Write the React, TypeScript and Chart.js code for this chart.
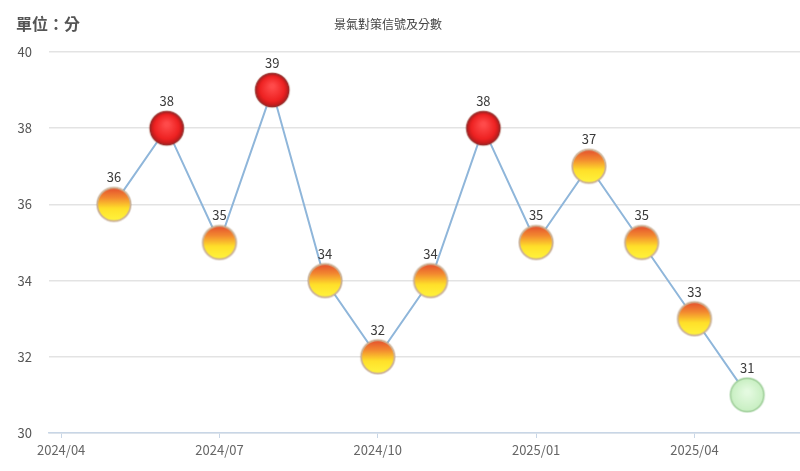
import React, { useEffect, useRef } from "react";
import { Chart, registerables } from "chart.js";

Chart.register(...registerables);

// monthly 景氣對策信號 scores
const months = [
  "2024/05", "2024/06", "2024/07", "2024/08", "2024/09", "2024/10", "2024/11",
  "2024/12", "2025/01", "2025/02", "2025/03", "2025/04", "2025/05",
];
const scores = [36, 38, 35, 39, 34, 32, 34, 38, 35, 37, 35, 33, 31];
const tickLabels = ["2024/04", "2024/07", "2024/10", "2025/01", "2025/04"];
const yTicks = [30, 32, 34, 36, 38, 40];

// months counted from 2024/04
const toIndex = (ym: string) => {
  const [y, m] = ym.split("/").map(Number);
  return (y - 2024) * 12 + m - 4;
};

const makeBall = (kind: "red" | "yellowRed" | "green") => {
  const size = 40;
  const c = document.createElement("canvas");
  c.width = size;
  c.height = size;
  const ctx = c.getContext("2d")!;
  const cx = size / 2;
  const cy = size / 2;
  const r = 16.5;
  // soft glow
  ctx.beginPath();
  ctx.arc(cx, cy, r + 1.5, 0, Math.PI * 2);
  ctx.fillStyle = kind === "green" ? "rgba(150,200,150,0.35)" : "rgba(170,140,110,0.3)";
  ctx.fill();
  ctx.beginPath();
  ctx.arc(cx, cy, r, 0, Math.PI * 2);
  if (kind === "red") {
    const g = ctx.createRadialGradient(cx, cy - 4, 2, cx, cy, r);
    g.addColorStop(0, "#ff4a4a");
    g.addColorStop(0.7, "#ee2222");
    g.addColorStop(1, "#b51a1a");
    ctx.fillStyle = g;
    ctx.fill();
    ctx.lineWidth = 1.5;
    ctx.strokeStyle = "#9e2a2a";
    ctx.stroke();
  } else if (kind === "yellowRed") {
    const g = ctx.createLinearGradient(0, cy - r, 0, cy + r);
    g.addColorStop(0, "#e4502e");
    g.addColorStop(0.3, "#f38a30");
    g.addColorStop(0.62, "#ffe02a");
    g.addColorStop(1, "#fff43c");
    ctx.fillStyle = g;
    ctx.fill();
    ctx.lineWidth = 1.5;
    ctx.strokeStyle = "#cdb192";
    ctx.stroke();
  } else {
    const g = ctx.createRadialGradient(cx, cy - 3, 2, cx, cy, r);
    g.addColorStop(0, "#e4fae0");
    g.addColorStop(1, "#c8efc2");
    ctx.fillStyle = g;
    ctx.fill();
    ctx.lineWidth = 1.5;
    ctx.strokeStyle = "#a6d3a0";
    ctx.stroke();
  }
  return c;
};

const signalOf = (s: number) => (s >= 38 ? "red" : s >= 32 ? "yellowRed" : "green");

const App = () => {
  const chartRef = useRef<HTMLCanvasElement | null>(null);

  useEffect(() => {
    document.body.style.margin = "0";
    if (!chartRef.current) return;
    const ctx = chartRef.current.getContext("2d");
    if (!ctx) return;

    const balls = {
      red: makeBall("red"),
      yellowRed: makeBall("yellowRed"),
      green: makeBall("green"),
    };

    const labelPlugin = {
      id: "scoreLabels",
      afterDatasetsDraw(chart: any) {
        const c = chart.ctx;
        const meta = chart.getDatasetMeta(0);
        c.save();
        c.font = "13px 'Noto Sans CJK TC', sans-serif";
        c.fillStyle = "#3a3a3a";
        c.textAlign = "center";
        c.textBaseline = "middle";
        meta.data.forEach((pt: any, i: number) => {
          c.fillText(String(scores[i]), pt.x, pt.y - 27);
        });
        c.restore();
      },
    };

    const chart = new Chart(ctx, {
      type: "line",
      data: {
        datasets: [
          {
            data: months.map((m, i) => ({ x: toIndex(m), y: scores[i] })),
            borderColor: "#8fb6da",
            borderWidth: 2,
            pointStyle: scores.map((s) => balls[signalOf(s)]) as any,
            pointRadius: 16,
            pointHoverRadius: 16,
            tension: 0,
            clip: false as any,
          },
        ],
      },
      options: {
        animation: false,
        responsive: false,
        layout: { autoPadding: false, padding: { top: 52, right: 0, left: 0, bottom: 0 } },
        plugins: { legend: { display: false }, tooltip: { enabled: false } },
        scales: {
          x: {
            type: "linear",
            min: -0.23,
            max: 14,
            afterBuildTicks: (scale: any) => {
              scale.ticks = tickLabels.map((t) => ({ value: toIndex(t) }));
            },
            afterFit: (scale: any) => {
              scale.height = 38;
              scale.paddingLeft = 0;
              scale.paddingRight = 0;
            },
            ticks: {
              callback: (v: any) => tickLabels.find((t) => toIndex(t) === v) ?? "",
              color: "#666",
              font: { size: 13, family: "'Noto Sans CJK TC', sans-serif" },
              padding: 4,
              maxRotation: 0,
            },
            grid: {
              drawOnChartArea: false,
              drawTicks: true,
              tickLength: 5,
              color: "#c8d6e6",
            },
            border: { color: "#c8d6e6", width: 1.5 },
          },
          y: {
            min: 30,
            max: 40,
            afterBuildTicks: (scale: any) => {
              scale.ticks = yTicks.map((v) => ({ value: v }));
            },
            afterFit: (scale: any) => {
              scale.width = 49;
            },
            ticks: {
              color: "#555",
              font: { size: 13, family: "'Noto Sans CJK TC', sans-serif" },
              padding: 17,
            },
            grid: { color: "#e3e3e3", lineWidth: 1.5, drawTicks: false },
            border: { display: false },
          },
        },
      },
      plugins: [labelPlugin],
    });

    return () => {
      chart.destroy();
    };
  }, []);

  return (
    <div style={{ position: "relative", width: 800, height: 471, background: "#fff" }}>
      <div
        style={{
          position: "absolute",
          left: 16,
          top: 12,
          fontFamily: "'Noto Sans CJK TC', sans-serif",
          fontSize: 16,
          fontWeight: 700,
          color: "#555",
          lineHeight: "22px",
        }}
      >
        單位：分
      </div>
      <div
        style={{
          position: "absolute",
          left: 0,
          width: 776,
          top: 15,
          textAlign: "center",
          fontFamily: "'Noto Sans CJK TC', sans-serif",
          fontSize: 12,
          color: "#444",
          lineHeight: "18px",
        }}
      >
        景氣對策信號及分數
      </div>
      <canvas ref={chartRef} width={800} height={471} style={{ display: "block" }} />
    </div>
  );
};

export default App;
